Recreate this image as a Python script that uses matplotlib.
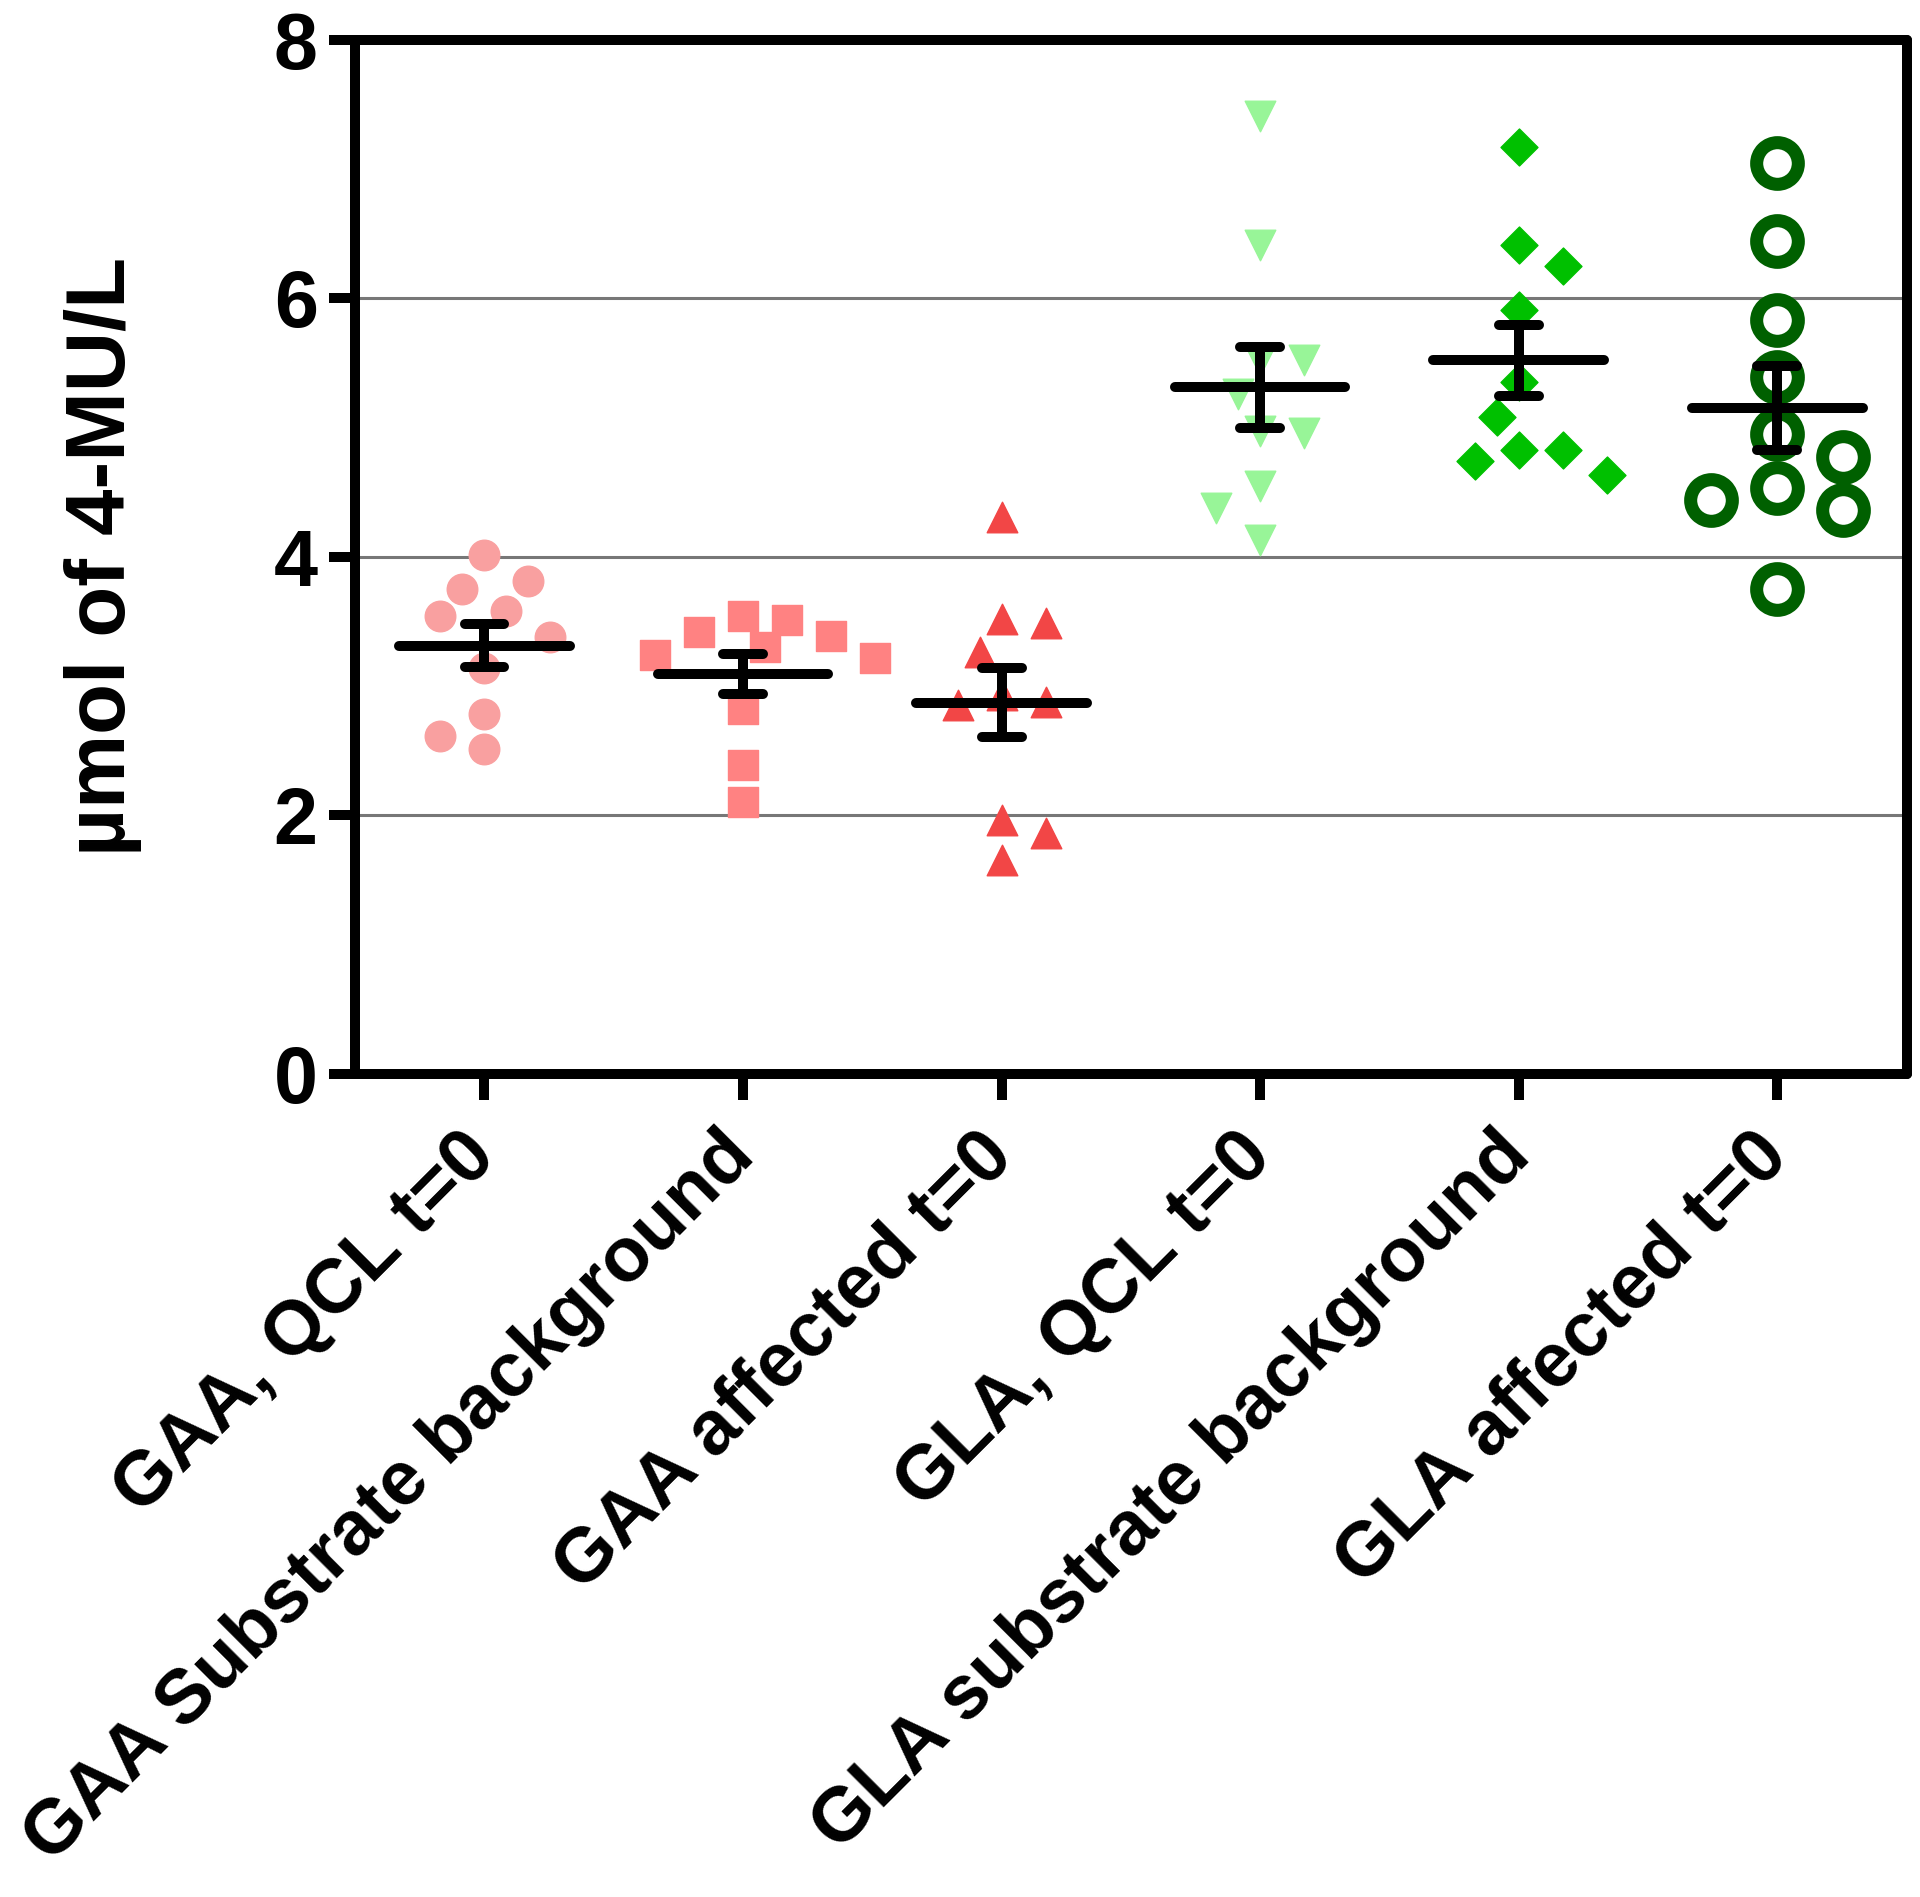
import numpy as np
import matplotlib
matplotlib.use('Agg')
import matplotlib.pyplot as plt

# group names (x tick labels)
groups = ['GAA, QCL t=0', 'GAA Substrate background', 'GAA affected t=0',
          'GLA, QCL t=0', 'GLA substrate background', 'GLA affected t=0']

# values (µmol of 4-MU/L)
gaa_qcl = [4.01, 3.81, 3.75, 3.58, 3.54, 3.38, 3.14, 2.78, 2.61, 2.51]
gaa_sub = [3.54, 3.51, 3.42, 3.39, 3.30, 3.24, 3.22, 2.82, 2.39, 2.10]
gaa_aff = [4.31, 3.52, 3.49, 3.26, 2.93, 2.88, 2.85, 1.96, 1.86, 1.65]
gla_qcl = [7.41, 6.41, 5.52, 5.52, 5.26, 4.97, 4.96, 4.55, 4.38, 4.13]
gla_sub = [7.17, 6.41, 6.25, 5.91, 5.35, 5.08, 4.83, 4.83, 4.74, 4.63]
gla_aff = [7.05, 6.44, 5.83, 5.39, 4.95, 4.77, 4.53, 4.44, 4.36, 3.75]
data = [gaa_qcl, gaa_sub, gaa_aff, gla_qcl, gla_sub, gla_aff]

plt.rcParams['font.family'] = ['Liberation Sans', 'DejaVu Sans']
plt.rcParams['font.weight'] = 'bold'

W, H = 1920, 1897
fig = plt.figure(figsize=(W / 100, H / 100), dpi=100)
left, right, bottom, top = 0.185, 0.993, 0.434, 0.979
ax = fig.add_axes([left, bottom, right - left, top - bottom])
ax.set_xlim(-0.5, 5.5)
ax.set_ylim(0, 8)

# pixels per data unit, used to lay the points out like a swarm
sx = W * (right - left) / 6
sy = H * (top - bottom) / 8


def swarm(vals, diam, step):
    vals = np.asarray(vals)
    offs = np.zeros(len(vals))
    placed = []
    side = 1
    for i in np.argsort(-vals, kind='stable'):
        y = vals[i] * sy
        cands = [0.0]
        for k in range(1, 12):
            cands += [side * k * step, -side * k * step]
        for c in cands:
            if all(np.hypot(c - px, y - py) >= diam for px, py in placed):
                break
        if c != 0:
            side = -np.sign(c)
        offs[i] = c / sx
        placed.append((c, y))
    return offs


styles = [
    dict(marker='o', s=22 ** 2, color='#F9A0A0'),
    dict(marker='s', s=22 ** 2, color='#FF8282'),
    dict(marker='^', s=22 ** 2, color='#F24646'),
    dict(marker='v', s=22 ** 2, color='#98F598'),
    dict(marker='D', s=18.8 ** 2, color='#00C000'),
    dict(marker='o', s=30 ** 2, facecolor='white', edgecolor='#006000', linewidths=9.4),
]
diams = [34, 34, 36, 36, 38, 50]

for i, (vals, st) in enumerate(zip(data, styles)):
    offs = swarm(vals, diams[i], 22)
    ax.scatter(i + offs, vals, zorder=3, **st)

    v = np.array(vals)
    mean = v.mean()
    sem = v.std(ddof=1) / np.sqrt(len(v))
    lc = ax.hlines(mean, i - 0.33, i + 0.33, color='black', linewidth=7.2, zorder=4)
    lc.set_capstyle('round')
    lc = ax.hlines([mean - sem, mean + sem], i - 0.077, i + 0.077, color='black',
                   linewidth=7.2, zorder=4)
    lc.set_capstyle('round')
    lc = ax.vlines(i, mean - sem, mean + sem, color='black', linewidth=7.2, zorder=4)
    lc.set_capstyle('round')

ax.set_yticks([0, 2, 4, 6, 8])
ax.yaxis.grid(True, color='#777777', linewidth=2.2)
ax.set_axisbelow(True)
ax.set_xticks(range(len(groups)))
ax.set_xticklabels(groups, rotation=45, ha='right', va='center',
                   rotation_mode='anchor', fontsize=55, fontweight='bold')
ax.tick_params(axis='x', length=19, width=7.2, pad=32)
ax.tick_params(axis='y', length=19, width=7.2, labelsize=57, pad=8)
for t in ax.get_yticklabels():
    t.set_fontweight('bold')
for sp in ax.spines.values():
    sp.set_linewidth(7.2)
    sp.set_capstyle('round')

ax.set_ylabel('µmol of 4-MU/L', fontsize=60, fontweight='bold', labelpad=95)

fig.savefig('out.png', dpi=100)
